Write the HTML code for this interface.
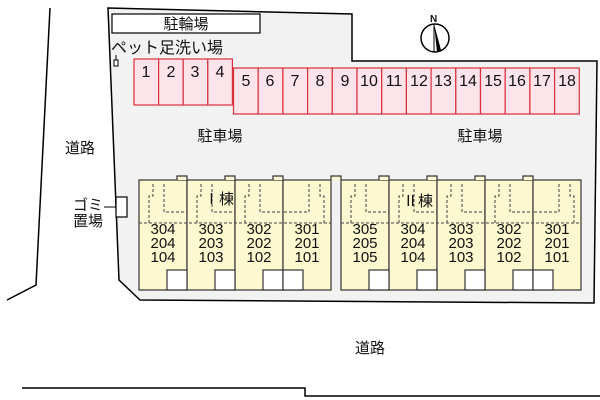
<!DOCTYPE html>
<html><head><meta charset="utf-8"><style>
html,body{margin:0;padding:0;background:#fff;}
svg{display:block;}
text{font-family:"Liberation Sans","Noto Sans CJK JP",sans-serif;fill:#111;}
</style></head><body>
<svg width="600" height="400" viewBox="0 0 600 400" xmlns="http://www.w3.org/2000/svg">
<polyline points="50,8 36,285 7,300" fill="none" stroke="#000" stroke-width="1.5"/>
<polyline points="22,388 305,388 305,396 600,396" fill="none" stroke="#000" stroke-width="1.5"/>
<polygon points="108,8 352,14 352,61 597,61 594,303 140,300 119,280" fill="#f2f2f2" stroke="#000" stroke-width="1.5"/>
<rect x="112" y="14" width="148" height="19" fill="#fff" stroke="#000" stroke-width="1.2"/>
<text x="186" y="29" font-size="15" text-anchor="middle">駐輪場</text>
<text x="111" y="53" font-size="16">ペット足洗い場</text>
<line x1="116" y1="55" x2="116" y2="60" stroke="#000"/>
<rect x="114" y="60" width="4" height="6" fill="#fff" stroke="#000"/>
<g fill="#fde3ea" stroke="#d9303a" stroke-width="1.2">
<rect x="134" y="59" width="24.6" height="46"/><rect x="158.6" y="59" width="24.6" height="46"/>
<rect x="183.2" y="59" width="24.6" height="46"/><rect x="207.8" y="59" width="24.6" height="46"/>
</g>
<g font-size="16" text-anchor="middle">
<text x="146" y="77">1</text><text x="171" y="77">2</text><text x="195" y="77">3</text><text x="220" y="77">4</text>
</g>
<g fill="#fde3ea" stroke="#d9303a" stroke-width="1.2">
<rect x="233.5" y="68" width="24.7" height="46"/><rect x="258.2" y="68" width="24.7" height="46"/>
<rect x="282.9" y="68" width="24.7" height="46"/><rect x="307.6" y="68" width="24.7" height="46"/>
<rect x="332.3" y="68" width="24.7" height="46"/><rect x="357" y="68" width="24.7" height="46"/>
<rect x="381.7" y="68" width="24.7" height="46"/><rect x="406.4" y="68" width="24.7" height="46"/>
<rect x="431.1" y="68" width="24.7" height="46"/><rect x="455.8" y="68" width="24.7" height="46"/>
<rect x="480.5" y="68" width="24.7" height="46"/><rect x="505.2" y="68" width="24.7" height="46"/>
<rect x="529.9" y="68" width="24.7" height="46"/><rect x="554.6" y="68" width="24.7" height="46"/>
</g>
<g font-size="16" text-anchor="middle">
<text x="246" y="86">5</text><text x="270" y="86">6</text><text x="295" y="86">7</text><text x="320" y="86">8</text>
<text x="345" y="86">9</text><text x="369" y="86">10</text><text x="394" y="86">11</text><text x="419" y="86">12</text>
<text x="443" y="86">13</text><text x="468" y="86">14</text><text x="493" y="86">15</text><text x="517" y="86">16</text>
<text x="542" y="86">17</text><text x="567" y="86">18</text>
</g>
<text x="220" y="141" font-size="15" text-anchor="middle">駐車場</text>
<text x="480" y="141" font-size="15" text-anchor="middle">駐車場</text>
<text x="80" y="153" font-size="15" text-anchor="middle">道路</text>
<text x="370" y="353" font-size="15" text-anchor="middle">道路</text>
<circle cx="435" cy="38" r="14" fill="#fff" stroke="#000" stroke-width="1.5"/>
<polygon points="434,24 437,52 441,50" fill="#000"/>
<line x1="434" y1="24" x2="434" y2="52" stroke="#000"/>
<text x="430" y="22" font-size="10" font-weight="bold">N</text>
<text x="88" y="210" font-size="15" text-anchor="middle">ゴミ</text>
<text x="88" y="226" font-size="15" text-anchor="middle">置場</text>
<line x1="104" y1="207" x2="117" y2="207" stroke="#000"/>
<rect x="116" y="197" width="11" height="20" fill="#fff" stroke="#000" stroke-width="1.2"/>
<g stroke="#333" stroke-width="1.2" fill="#fdf8d0">
<rect x="139" y="180" width="48" height="110"/><rect x="187" y="180" width="48" height="110"/>
<rect x="235" y="180" width="48" height="110"/><rect x="283" y="180" width="48" height="110"/>
<rect x="341" y="180" width="48" height="110"/><rect x="389" y="180" width="48" height="110"/>
<rect x="437" y="180" width="48" height="110"/><rect x="485" y="180" width="48" height="110"/>
<rect x="533" y="180" width="48" height="110"/>
<path d="M177,180V176H187V180M225,180V176H235V180M273,180V176H283V180M331,180V176H341V180M379,180V176H389V180M427,180V176H437V180M475,180V176H485V180M523,180V176H533V180" fill="#fdf8d0"/>
</g>
<g fill="#fff" stroke="#333" stroke-width="1.2">
<rect x="167" y="270" width="20" height="20"/><rect x="215" y="270" width="20" height="20"/>
<rect x="263" y="270" width="20" height="20"/><rect x="283" y="270" width="20" height="20"/>
<rect x="369" y="270" width="20" height="20"/><rect x="417" y="270" width="20" height="20"/>
<rect x="465" y="270" width="20" height="20"/><rect x="513" y="270" width="20" height="20"/>
<rect x="533" y="270" width="20" height="20"/>
</g>
<g stroke="#444" stroke-width="1" stroke-dasharray="3,2" fill="none">
<line x1="139" y1="223" x2="331" y2="223"/><line x1="341" y1="223" x2="581" y2="223"/>
<path d="M149,223V196h4V184M164,184V212H187M197,223V196h4V184M212,184V212H235M245,223V196h4V184M260,184V212H283M324,223V196h-4V184M309,184V212H283"/>
<path d="M351,223V196h4V184M366,184V212H389M399,223V196h4V184M414,184V212H437M447,223V196h4V184M462,184V212H485M495,223V196h4V184M510,184V212H533M574,223V196h-4V184M559,184V212H533"/>
</g>
<g font-size="15" text-anchor="middle">
<text x="163" y="234">304</text><text x="163" y="248">204</text><text x="163" y="262">104</text>
<text x="211" y="234">303</text><text x="211" y="248">203</text><text x="211" y="262">103</text>
<text x="259" y="234">302</text><text x="259" y="248">202</text><text x="259" y="262">102</text>
<text x="307" y="234">301</text><text x="307" y="248">201</text><text x="307" y="262">101</text>
<text x="365" y="234">305</text><text x="365" y="248">205</text><text x="365" y="262">105</text>
<text x="413" y="234">304</text><text x="413" y="248">204</text><text x="413" y="262">104</text>
<text x="461" y="234">303</text><text x="461" y="248">203</text><text x="461" y="262">103</text>
<text x="509" y="234">302</text><text x="509" y="248">202</text><text x="509" y="262">102</text>
<text x="557" y="234">301</text><text x="557" y="248">201</text><text x="557" y="262">101</text>
</g>
<text x="204" y="204" font-size="15">Ⅰ棟</text>
<text x="403" y="206" font-size="15">Ⅱ棟</text>
</svg>
</body></html>
